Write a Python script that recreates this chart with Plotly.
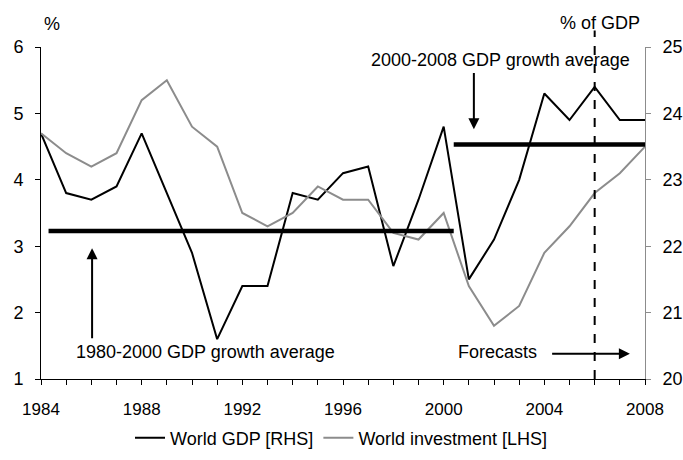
import plotly.graph_objects as go

years = list(range(1984, 2009))

# Real GDP growth, % (left scale)
world_gdp = [4.7, 3.8, 3.7, 3.9, 4.7, 3.8, 2.9, 1.6, 2.4, 2.4, 3.8, 3.7, 4.1,
             4.2, 2.7, 3.7, 4.8, 2.5, 3.1, 4.0, 5.3, 4.9, 5.4, 4.9, 4.9]

# Investment, % of GDP (right scale)
world_investment = [23.7, 23.4, 23.2, 23.4, 24.2, 24.5, 23.8, 23.5, 22.5, 22.3,
                    22.5, 22.9, 22.7, 22.7, 22.2, 22.1, 22.5, 21.4, 20.8, 21.1,
                    21.9, 22.3, 22.8, 23.1, 23.5]

avg_1980_2000 = 3.23
avg_2000_2008 = 4.53
forecast_start = 2006

FONT = "Liberation Sans, Arial, sans-serif"

fig = go.Figure()
fig.add_trace(go.Scatter(x=years, y=world_gdp, mode="lines", name="World GDP [RHS]",
                         line=dict(color="black", width=2), yaxis="y"))
fig.add_trace(go.Scatter(x=years, y=world_investment, mode="lines",
                         name="World investment [LHS]",
                         line=dict(color="#8c8c8c", width=2), yaxis="y2"))

shapes = [
    dict(type="line", xref="x", yref="y", x0=1984.3, x1=2000.4,
         y0=avg_1980_2000, y1=avg_1980_2000, line=dict(color="black", width=4.5)),
    dict(type="line", xref="x", yref="y", x0=2000.4, x1=2008.0,
         y0=avg_2000_2008, y1=avg_2000_2008, line=dict(color="black", width=4.5)),
    dict(type="line", xref="x", yref="paper", x0=forecast_start, x1=forecast_start,
         y0=0, y1=1.05, line=dict(color="black", width=2, dash="dash")),
]

annotations = [
    dict(text="%", xref="paper", yref="paper", x=0.0185, y=1.069, xanchor="center",
         yanchor="middle", showarrow=False, font=dict(size=18)),
    dict(text="% of GDP", xref="paper", yref="paper", x=0.925, y=1.072, xanchor="center",
         yanchor="middle", showarrow=False, font=dict(size=18)),
    dict(text="2000-2008 GDP growth average", xref="x", yref="y", x=2007.5, y=5.81,
         xanchor="right", yanchor="middle", showarrow=False, font=dict(size=18)),
    dict(text="1980-2000 GDP growth average", xref="x", yref="y", x=1985.3, y=1.41,
         xanchor="left", yanchor="middle", showarrow=False, font=dict(size=18)),
    dict(text="Forecasts", xref="x", yref="y", x=2003.8, y=1.41,
         xanchor="right", yanchor="middle", showarrow=False, font=dict(size=18)),
    # arrows
    dict(text="", xref="x", yref="y", x=2001.2, y=4.76, axref="x", ayref="y",
         ax=2001.2, ay=5.63, showarrow=True, arrowhead=2, arrowsize=1.1,
         arrowwidth=2, arrowcolor="black"),
    dict(text="", xref="x", yref="y", x=1986.03, y=2.97, axref="x", ayref="y",
         ax=1986.03, ay=1.59, showarrow=True, arrowhead=2, arrowsize=1.1,
         arrowwidth=2, arrowcolor="black"),
    dict(text="", xref="x", yref="y", x=2007.4, y=1.38, axref="x", ayref="y",
         ax=2004.25, ay=1.38, showarrow=True, arrowhead=2, arrowsize=1.1,
         arrowwidth=2, arrowcolor="black"),
]

fig.update_layout(
    width=683, height=460,
    margin=dict(l=41, r=38, t=47, b=81, autoexpand=False),
    paper_bgcolor="white", plot_bgcolor="white",
    font=dict(family=FONT, size=18, color="black"),
    showlegend=True,
    legend=dict(orientation="h", xref="container", yref="container",
                x=0.5, y=22 / 460, xanchor="center", yanchor="middle",
                font=dict(size=18), tracegroupgap=0),
    xaxis=dict(range=[1984, 2008], tickvals=list(range(1984, 2009, 4)),
               showline=True, linecolor="black", linewidth=1, automargin=False,
               ticks="outside", ticklen=5, tickcolor="black", showgrid=False,
               zeroline=False, tickfont=dict(size=17), ticklabelstandoff=10,
               minor=dict(dtick=1, ticks="outside", ticklen=5, tickcolor="black",
                          showgrid=False)),
    yaxis=dict(range=[1, 6], dtick=1, showline=True, linecolor="black", linewidth=1,
               ticks="outside", ticklen=5, tickcolor="black", showgrid=False,
               automargin=False,
               zeroline=False, tickfont=dict(size=18), ticklabelstandoff=8),
    yaxis2=dict(range=[20, 25], dtick=1, overlaying="y", side="right",
                showline=True, linecolor="#8c8c8c", linewidth=1, automargin=False,
                ticks="outside", ticklen=5, tickcolor="#8c8c8c", showgrid=False,
                zeroline=False, tickfont=dict(size=18), ticklabelstandoff=8),
    shapes=shapes,
    annotations=annotations,
)

fig.write_html("out.html")
